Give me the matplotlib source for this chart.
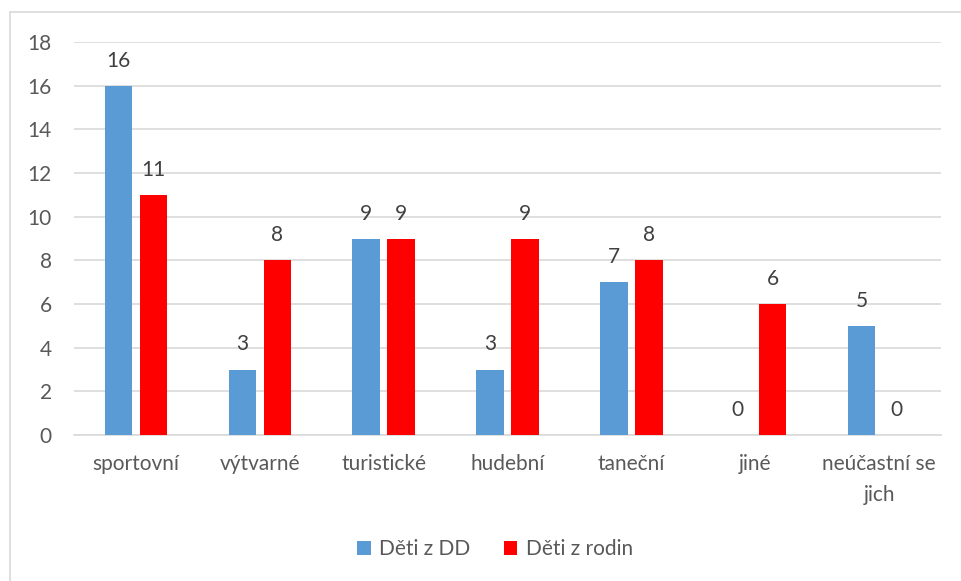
import numpy as np
import matplotlib
matplotlib.use("Agg")
import matplotlib.pyplot as plt
from matplotlib.patches import Rectangle

plt.rcParams['font.family'] = ['Lato', 'DejaVu Sans']

categories = ['sportovní', 'výtvarné', 'turistické', 'hudební', 'taneční', 'jiné', 'neúčastní se\njich']
deti_dd = [16, 3, 9, 3, 7, 0, 5]
deti_rodin = [11, 8, 9, 9, 8, 6, 0]
series_names = ['Děti z DD', 'Děti z rodin']
y_ticks = list(range(0, 19, 2))

blue = '#5B9BD5'
red = '#FF0000'
text_col = '#595959'
fs = 15

W, H = 961, 581
fig = plt.figure(figsize=(W / 100, H / 100), dpi=100)
# plot area in pixel coordinates: x 74..941, y 42..435 (top-down)
ax = fig.add_axes([74 / W, 1 - 435 / H, (941 - 74) / W, (435 - 42) / H])

# outer chart border (only left/top visible in the reference)
fig.add_artist(Rectangle((10 / W, -0.05), 1.1, 1 - 12 / H + 0.05,
                         transform=fig.transFigure, fill=False,
                         edgecolor='#D9D9D9', linewidth=1.2))

x = np.arange(len(categories))
bw = 0.222
off = 0.141
b1 = ax.bar(x - off, deti_dd, bw, color=blue, label=series_names[0], zorder=3)
b2 = ax.bar(x + off, deti_rodin, bw, color=red, label=series_names[1], zorder=3)

for bars, vals in ((b1, deti_dd), (b2, deti_rodin)):
    for rect, v in zip(bars, vals):
        ax.annotate(str(v), (rect.get_x() + rect.get_width() / 2, v),
                    xytext=(0, 18), textcoords='offset points',
                    ha='center', va='center', fontsize=fs, color='#404040')

ax.set_xlim(-0.5, len(categories) - 0.5)
ax.set_ylim(0, 18)
ax.set_yticks(y_ticks)
ax.set_xticks(x)
ax.set_xticklabels(categories, linespacing=1.65)
ax.tick_params(axis='both', length=0, labelsize=fs, labelcolor=text_col)
ax.tick_params(axis='x', pad=14)
ax.tick_params(axis='y', pad=16)
ax.yaxis.grid(True, color='#D9D9D9', linewidth=1.2, zorder=0)
ax.set_axisbelow(True)
for name, sp in ax.spines.items():
    if name == 'bottom':
        sp.set_color('#D9D9D9')
        sp.set_linewidth(1.2)
    else:
        sp.set_visible(False)

fig.legend(handles=[b1, b2], labels=series_names, loc='center',
           bbox_to_anchor=(495 / W, 1 - 549 / H), ncol=2, frameon=False,
           fontsize=fs, labelcolor=text_col, handlelength=0.65,
           handleheight=0.65, handletextpad=0.4, columnspacing=1.6)

fig.savefig('out.png', dpi=100)
